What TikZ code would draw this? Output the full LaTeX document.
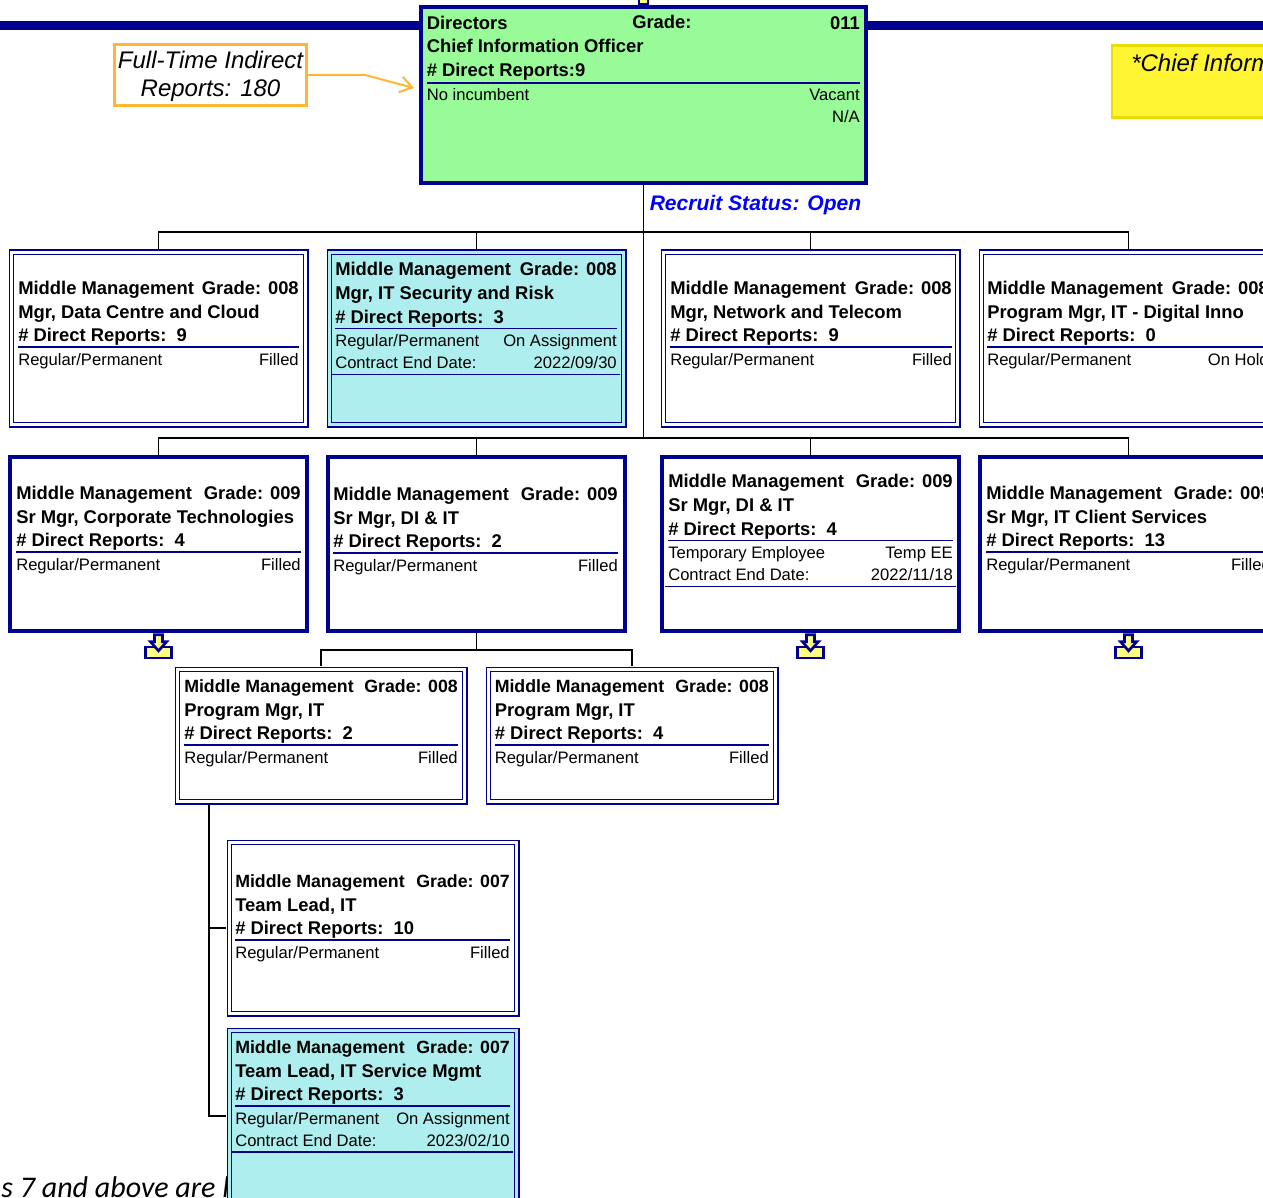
\documentclass[tikz,border=0pt]{standalone}
\usepackage{fontspec}
\setmainfont{Liberation Sans}
\newfontfamily\notefont{Carlito}
\usetikzlibrary{arrows.meta}
\definecolor{chartnavy}{HTML}{000090}
\definecolor{cardgreen}{HTML}{98FB98}
\definecolor{cardcyan}{HTML}{AFEEEE}
\definecolor{noteorange}{HTML}{FFB733}
\definecolor{noteyellow}{HTML}{FFF533}
\definecolor{noteedge}{HTML}{E8DC00}
\definecolor{iconyellow}{HTML}{FFFF80}
\newcommand{\levelsize}{13.8}
\tikzset{
  x=0.75pt,y=-0.75pt,
  orgline/.style={draw=black,line width=0.95pt},
  cardrule/.style={draw=chartnavy,line width=0.9pt},
  boldline/.style={font=\fontsize{13.8}{16}\selectfont\bfseries,inner sep=0pt},
  levelline/.style={font=\fontsize{\levelsize}{16}\selectfont\bfseries,inner sep=0pt},
  plainline/.style={font=\fontsize{12.45}{15}\selectfont,inner sep=0pt},
  doublecard/.style={draw=chartnavy,line width=1.1pt,double=#1,double distance=2pt,fill=#1,inner sep=0pt,outer sep=2.25pt,anchor=north west},
  thickcard/.style={draw=chartnavy,line width=3pt,fill=#1,inner sep=0pt,outer sep=1.5pt,anchor=north west},
  dropicon/.pic={
    \draw[draw=chartnavy,fill=iconyellow,line width=1.7pt] (-13,14) rectangle (13,25);
    \draw[draw=chartnavy,fill=iconyellow,line width=2pt] (-4,2) -- (4,2) -- (4,9) -- (8,9) -- (0,18) -- (-8,9) -- (-4,9) -- cycle;
  }
}
% box: name, style, corner x, corner y, width, height
\newcommand{\cardbox}[6]{\node[#2,minimum width=#5*0.75pt,minimum height=#6*0.75pt] (#1) at (#3,#4) {};}
% text: name, left, right, baseline, grade, title, reports, status left, status right
\newcommand{\cardtext}[9]{
  \node[levelline,anchor=base west] (#1level) at (#2,#4) {Middle Management};
  \node[levelline,anchor=base east] (#1grade) at (#3,#4) {Grade: #5};
  \node[boldline,anchor=base west] (#1title) at (#2,#4+24) {#6};
  \node[boldline,anchor=base west] (#1reports) at (#2,#4+47.5) {\#~Direct Reports:~~#7};
  \draw[cardrule] (#2,#4+53) -- (#3,#4+53);
  \node[plainline,anchor=base west] (#1status) at (#2,#4+71) {#8};
  \node[plainline,anchor=base east] (#1fill) at (#3,#4+71) {#9};
}
% second status line: name, left, right, baseline, date
\newcommand{\cardend}[5]{
  \node[plainline,anchor=base west] (#1end) at (#2,#4+93) {Contract End Date:};
  \node[plainline,anchor=base east] (#1date) at (#3,#4+93) {#5};
  \draw[cardrule] (#2-3,#4+99) -- (#3+3,#4+99);
}
\begin{document}
\begin{tikzpicture}
  \clip (0,0) rectangle (1263,1198);

  % top bar and stub
  \draw[draw=chartnavy,line width=6.4pt] (0,25.5) -- (1263,25.5);
  \draw[draw=chartnavy,fill=iconyellow,line width=2pt] (639,-3) rectangle (648,4);

  % cards
  \cardbox{cio}{thickcard=cardgreen}{419}{5}{445}{176}
  \cardbox{dc}{doublecard=white}{8.3}{249.3}{294.5}{172.5}
  \cardbox{itsec}{doublecard=cardcyan}{326.3}{249.3}{294.5}{172.5}
  \cardbox{net}{doublecard=white}{660.3}{249.3}{294.5}{172.5}
  \cardbox{inno}{doublecard=white}{978.3}{249.3}{294.5}{172.5}
  \cardbox{corp}{thickcard=white}{8.3}{455.3}{296.5}{173.5}
  \cardbox{dione}{thickcard=white}{326.3}{455.3}{296.5}{173.5}
  \cardbox{ditwo}{thickcard=white}{660.3}{455.3}{296.5}{173.5}
  \cardbox{client}{thickcard=white}{978.3}{455.3}{296.5}{173.5}
  \cardbox{pma}{doublecard=white}{174.3}{666.3}{287.5}{132.5}
  \cardbox{pmb}{doublecard=white}{485.3}{666.3}{287.5}{132.5}
  \cardbox{lead}{doublecard=white}{226.3}{839.3}{287.5}{171.5}
  \node[font=\notefont\itshape\fontsize{22.5}{26}\selectfont,anchor=base east,inner sep=0pt] (gradenote) at (229.5,1197.5) {s 7 and above are l};
  \cardbox{svc}{doublecard=cardcyan}{226.3}{1027.3}{287.5}{171.5}

  % connectors
  \coordinate (busa) at (cio.south |- 0,232);
  \coordinate (busb) at (cio.south |- 0,438);
  \coordinate (busc) at (dione.south |- 0,650);
  \coordinate (drop) at (209,804);
  \draw[orgline] (cio.south) -- (busb);
  \draw[orgline] (dc.north) |- (busa) -| (inno.north);
  \draw[orgline] (itsec.north) -- (itsec.north |- busa);
  \draw[orgline] (net.north) -- (net.north |- busa);
  \draw[orgline] (corp.north) |- (busb) -| (client.north);
  \draw[orgline] (dione.north) -- (dione.north |- busb);
  \draw[orgline] (ditwo.north) -- (ditwo.north |- busb);
  \draw[orgline] (dione.south) -- (busc);
  \draw[orgline] (pma.north) |- (busc) -| (pmb.north);
  \draw[orgline] (drop) |- (lead.west);
  \draw[orgline] (drop) |- (svc.west);

  \pic at (corp.south) {dropicon};
  \pic at (ditwo.south) {dropicon};
  \pic at (client.south) {dropicon};

  % top card
  \node[boldline,anchor=base west] (ciolevel) at (426.5,30) {Directors};
  \node[boldline,anchor=base west] (ciograde) at (632,29) {Grade:};
  \node[boldline,anchor=base east] (ciocode) at (860,30) {011};
  \node[boldline,anchor=base west] (ciotitle) at (426.5,53) {Chief Information Officer};
  \node[boldline,anchor=base west] (cioreports) at (426.5,77) {\#~Direct Reports:9};
  \draw[cardrule] (427,83) -- (860,83);
  \node[plainline,anchor=base west] (ciostatus) at (426.5,101) {No incumbent};
  \node[plainline,anchor=base east] (ciofill) at (860,101) {Vacant};
  \node[plainline,anchor=base east] (cioend) at (860,123) {N/A};
  \node[font=\fontsize{15.8}{19}\selectfont\bfseries\itshape,text=blue,anchor=base west,inner sep=0pt] (recruit) at (649.5,211) {Recruit Status: Open};

  % notes
  \node[draw=noteorange,line width=2.1pt,inner sep=0pt,minimum width=192.5*0.75pt,minimum height=61.5*0.75pt] (fulltime) at (210.5,75) {};
  \node[align=center,inner sep=0pt,font=\fontsize{18}{21}\selectfont\itshape] (fulltimetext) at (210.5,76.5) {Full-Time Indirect\\Reports: 180};
  \coordinate (fulltimeend) at (414,88);
  \draw[draw=noteorange,line width=1.5pt,-{Straight Barb[length=9pt,width=12pt]}] (fulltime.east) -- (365,75) -- (fulltimeend);
  \node[draw=noteedge,fill=noteyellow,line width=2.2pt,inner sep=0pt,anchor=north west,minimum width=172*0.75pt,minimum height=72*0.75pt] (chiefnote) at (1110.5,44) {};
  \node[font=\fontsize{18}{21}\selectfont\itshape,anchor=base west,inner sep=0pt] (chieftext) at (1131,71.5) {*Chief Inform};

  % card texts
  \cardtext{dc}{18}{299}{294}{008}{Mgr, Data Centre and Cloud}{9}{Regular/Permanent}{Filled}
  \cardtext{itsec}{335}{617}{275.5}{008}{Mgr, IT Security and Risk}{3}{Regular/Permanent}{On Assignment}
  \cardend{itsec}{335}{617}{275.5}{2022/09/30}
  \cardtext{net}{670}{952}{294}{008}{Mgr, Network and Telecom}{9}{Regular/Permanent}{Filled}
  \cardtext{inno}{987}{1269}{294}{008}{Program Mgr, IT - Digital Inno}{0}{Regular/Permanent}{On Hold}
  \cardtext{corp}{16}{301}{499}{009}{Sr Mgr, Corporate Technologies}{4}{Regular/Permanent}{Filled}
  \cardtext{dione}{333}{618}{500}{009}{Sr Mgr, DI \& IT}{2}{Regular/Permanent}{Filled}
  \cardtext{ditwo}{668}{953}{487.5}{009}{Sr Mgr, DI \& IT}{4}{Temporary Employee}{Temp EE}
  \cardend{ditwo}{668}{953}{487.5}{2022/11/18}
  \cardtext{client}{986}{1271}{499}{009}{Sr Mgr, IT Client Services}{13}{Regular/Permanent}{Filled}
  \renewcommand{\levelsize}{13.3}
  \cardtext{pma}{184}{458}{692}{008}{Program Mgr, IT}{2}{Regular/Permanent}{Filled}
  \cardtext{pmb}{494.5}{769}{692}{008}{Program Mgr, IT}{4}{Regular/Permanent}{Filled}
  \cardtext{lead}{235}{510}{887}{007}{Team Lead, IT}{10}{Regular/Permanent}{Filled}
  \cardtext{svc}{235}{510}{1053}{007}{Team Lead, IT Service Mgmt}{3}{Regular/Permanent}{On Assignment}
  \cardend{svc}{235}{510}{1053}{2023/02/10}
\end{tikzpicture}
\end{document}
